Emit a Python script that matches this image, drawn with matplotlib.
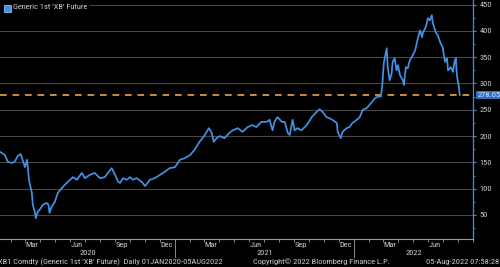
import numpy as np
import pandas as pd
import matplotlib
matplotlib.use("Agg")
from matplotlib import pyplot as plt
from matplotlib import font_manager
from matplotlib.patches import Rectangle
import matplotlib.dates as mdates
import matplotlib.transforms as mtransforms

# Generic 1st 'XB' Future (RBOB gasoline)
dates = [
    "2020-01-02", "2020-01-10", "2020-01-20", "2020-01-26", "2020-02-03", "2020-02-09",
    "2020-02-15", "2020-02-21", "2020-02-25", "2020-03-01", "2020-03-05", "2020-03-07",
    "2020-03-09", "2020-03-15", "2020-03-17", "2020-03-21", "2020-03-23", "2020-03-27",
    "2020-03-31", "2020-04-06", "2020-04-14", "2020-04-18", "2020-04-20", "2020-04-24",
    "2020-05-01", "2020-05-07", "2020-05-15", "2020-05-21", "2020-06-01", "2020-06-07",
    "2020-06-15", "2020-06-25", "2020-07-01", "2020-07-11", "2020-07-21", "2020-08-01",
    "2020-08-11", "2020-08-17", "2020-08-25", "2020-09-01", "2020-09-07", "2020-09-11",
    "2020-09-17", "2020-09-25", "2020-10-01", "2020-10-07", "2020-10-15", "2020-10-25",
    "2020-11-01", "2020-11-11", "2020-11-21", "2020-12-01", "2020-12-11", "2020-12-21",
    "2021-01-01", "2021-01-11", "2021-01-21", "2021-02-01", "2021-02-10", "2021-02-20",
    "2021-03-03", "2021-03-11", "2021-03-17", "2021-03-21", "2021-03-27", "2021-04-02",
    "2021-04-12", "2021-04-22", "2021-04-29", "2021-05-09", "2021-05-19", "2021-05-29",
    "2021-06-08", "2021-06-16", "2021-06-26", "2021-07-07", "2021-07-13", "2021-07-19",
    "2021-07-23", "2021-07-29", "2021-08-07", "2021-08-13", "2021-08-19", "2021-08-23",
    "2021-08-29", "2021-09-02", "2021-09-08", "2021-09-16", "2021-09-27", "2021-10-07",
    "2021-10-17", "2021-10-23", "2021-10-29", "2021-11-06", "2021-11-12", "2021-11-18",
    "2021-11-27", "2021-11-29", "2021-12-05", "2021-12-09", "2021-12-17", "2021-12-23",
    "2021-12-29", "2022-01-07", "2022-01-13", "2022-01-19", "2022-01-27", "2022-02-07",
    "2022-02-13", "2022-02-19", "2022-02-25", "2022-02-28", "2022-03-03", "2022-03-09",
    "2022-03-11", "2022-03-15", "2022-03-19", "2022-03-21", "2022-03-25", "2022-03-29",
    "2022-04-01", "2022-04-05", "2022-04-11", "2022-04-13", "2022-04-17", "2022-04-21",
    "2022-04-25", "2022-04-29", "2022-05-06", "2022-05-12", "2022-05-16", "2022-05-20",
    "2022-05-22", "2022-05-28", "2022-06-01", "2022-06-05", "2022-06-09", "2022-06-11",
    "2022-06-17", "2022-06-21", "2022-06-27", "2022-07-01", "2022-07-06", "2022-07-10",
    "2022-07-12", "2022-07-18", "2022-07-22", "2022-07-26", "2022-07-28", "2022-07-30",
    "2022-08-03", "2022-08-05",
]
prices = [
    172, 170, 164, 151, 149, 151,
    162, 166, 155, 141, 155, 139,
    117, 92, 69, 56, 44, 56,
    60, 69, 73, 69, 54, 65,
    75, 92, 101, 107, 117, 122,
    117, 130, 120, 126, 130, 120,
    122, 130, 139, 126, 113, 111,
    120, 117, 122, 117, 120, 113,
    105, 117, 120, 126, 132, 139,
    141, 155, 158, 164, 174, 189,
    202, 215, 206, 189, 196, 200,
    196, 206, 211, 215, 208, 217,
    221, 217, 227, 227, 231, 211,
    227, 236, 227, 227, 206, 202,
    231, 211, 215, 211, 221, 236,
    246, 251, 246, 236, 234, 231,
    225, 208, 196, 208, 215, 217,
    225, 231, 236, 250, 253, 265,
    272, 275, 275, 297, 339, 367,
    331, 306, 319, 341, 348, 325,
    335, 316, 306, 297, 331, 329,
    344, 350, 363, 388, 401, 388,
    397, 408, 424, 420, 430, 415,
    397, 392, 376, 369, 341, 348,
    325, 331, 322, 344, 348, 316,
    294, 278.05,
]
last_price = 278.05
month_labels = ["Mar", "Jun", "Sep", "Dec"]
years = [2020, 2021, 2022]

t = pd.to_datetime(dates)

bg = "black"
blue = "#4391e3"
orange = "#f2a444"
txt = "#cccccc"

# the terminal font is narrow; use a narrow family if there is one
names = {f.name for f in font_manager.fontManager.ttflist}
narrow = [n for n in ["Liberation Sans Narrow", "Roboto Condensed", "Open Sans Condensed",
                      "DejaVu Sans Condensed"] if n in names]
if narrow:
    plt.rcParams["font.family"] = [narrow[0], "DejaVu Sans"]
    fs = 6.0
else:
    plt.rcParams["font.family"] = ["Liberation Sans", "DejaVu Sans"]
    fs = 5.2

fig = plt.figure(figsize=(5.0, 2.67), dpi=100, facecolor=bg)
ax = fig.add_axes([0.0, 0.105, 0.946, 0.895], facecolor=bg)

ax.plot(t, prices, color=blue, lw=1.25, zorder=3)
ax.axhline(last_price, color=orange, lw=1.2, dashes=(4, 3.5), zorder=2)

x0 = pd.Timestamp("2020-01-10")
x1 = pd.Timestamp("2022-09-01")
ax.set_xlim(x0, x1)
ax.set_ylim(4.4, 458.7)

# y axis on the right
ax.yaxis.tick_right()
ax.set_yticks(np.arange(50, 451, 50))
ax.set_yticks(np.arange(25, 451, 25), minor=True)
ax.tick_params(axis="y", which="major", length=2.3, width=0.8, color=blue,
               labelsize=fs, labelcolor=txt, pad=2.3)
ax.tick_params(axis="y", which="minor", length=1.5, width=0.6, color=blue)
ax.grid(axis="y", which="major", color="#474747", lw=0.8, zorder=1)

for s in ["top", "left"]:
    ax.spines[s].set_visible(False)
ax.spines["right"].set_color(blue)
ax.spines["right"].set_linewidth(0.9)
ax.spines["bottom"].set_color("#9a9a9a")
ax.spines["bottom"].set_linewidth(0.8)

# x axis: monthly ticks, mid-month labels
month_nums = {"Mar": 3, "Jun": 6, "Sep": 9, "Dec": 12}
ax.xaxis.set_minor_locator(mdates.MonthLocator())
ax.tick_params(axis="x", which="minor", length=1.8, width=0.6, color="#9a9a9a")
label_pos = []
label_txt = []
for y in years:
    for m in month_labels:
        d = pd.Timestamp(year=y, month=month_nums[m], day=15)
        if x0 <= d <= x1:
            label_pos.append(d)
            label_txt.append(m)
ax.set_xticks(label_pos)
ax.set_xticklabels(label_txt)
ax.tick_params(axis="x", which="major", length=0, labelsize=fs, labelcolor=txt, pad=2.2)

trans = mtransforms.blended_transform_factory(ax.transData, ax.transAxes)
for y in years:
    a = max(pd.Timestamp(year=y, month=1, day=1), x0)
    b = min(pd.Timestamp(year=y + 1, month=1, day=1), x1)
    mid = a + (b - a) / 2
    ax.text(mid, -0.06, str(y), transform=trans, ha="center", va="center",
            fontsize=fs, color=txt)
    if y > years[0]:
        jan = pd.Timestamp(year=y, month=1, day=1)
        ax.plot([jan, jan], [0, -0.075], transform=trans, color="#8a8a8a",
                lw=0.7, clip_on=False)

# last value box
ax.annotate(f"{last_price:.2f}", xy=(1.0, last_price),
            xycoords=("axes fraction", "data"), xytext=(3.0, 0),
            textcoords="offset points", ha="left", va="center",
            fontsize=fs, color="#d8e8ff",
            bbox=dict(boxstyle="square,pad=0.12", fc="#2f6fc0", ec="none"))

# legend (black panel hides the top gridline behind it)
ax.add_patch(Rectangle((0.0, 0.94), 0.19, 0.06, transform=ax.transAxes,
                       fc=bg, ec="none", zorder=2.5))
fig.patches.append(Rectangle((0.008, 0.955), 0.014, 0.026, transform=fig.transFigure,
                             fc=blue, ec="#8cc0f5", lw=0.6, zorder=6))
ax.text(0.027, 0.984, "Generic 1st 'XB' Future", transform=ax.transAxes,
        ha="left", va="top", fontsize=fs, color=txt, zorder=6)

# footer
fy = 0.019
fig.text(-0.004, fy, "XB1 Comdty (Generic 1st 'XB' Future)  Daily 01JAN2020-05AUG2022",
         ha="left", va="center", fontsize=fs, color=txt)
fig.text(0.643, fy, "Copyright\u00a9 2022 Bloomberg Finance L.P.",
         ha="center", va="center", fontsize=fs, color=txt)
fig.text(0.999, fy, "05-Aug-2022 07:58:28",
         ha="right", va="center", fontsize=fs, color=txt)

fig.savefig("out.png", dpi=100, facecolor=bg)
